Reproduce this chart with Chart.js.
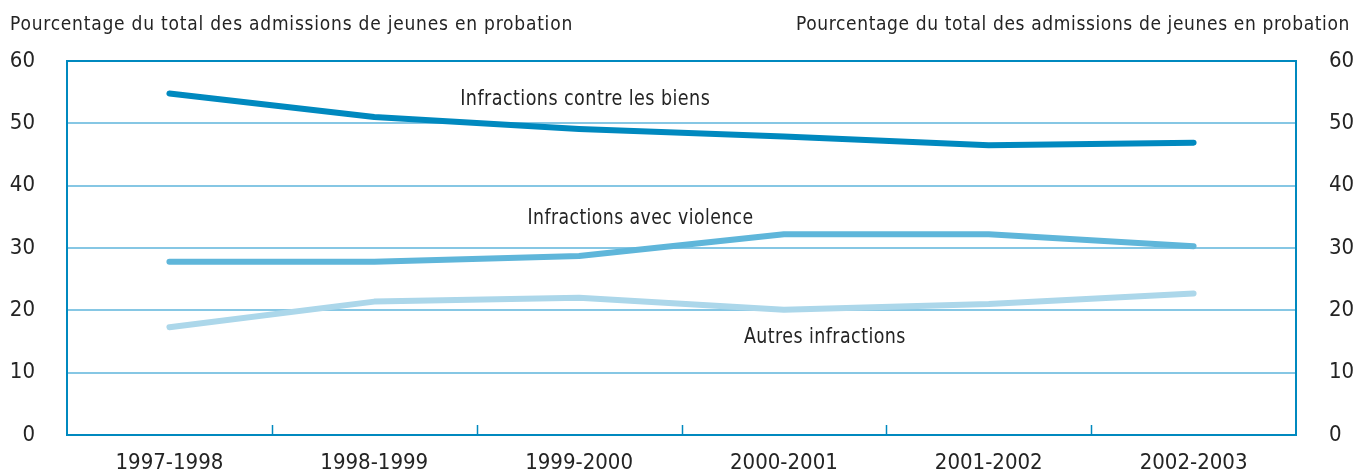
<!DOCTYPE html>
<html><head><meta charset="utf-8">
<script src="https://cdn.jsdelivr.net/npm/chart.js@4/dist/chart.umd.min.js"></script>
<style>html,body{margin:0;padding:0;background:#fff}#wrap{width:1369px;height:472px;position:relative}</style>
</head><body><div id="wrap"><canvas id="c" width="1369" height="472"></canvas></div>
<script>
const categories = ['1997-1998','1998-1999','1999-2000','2000-2001','2001-2002','2002-2003'];
const biens = [54.8, 51.0, 49.1, 47.9, 46.5, 46.9];
const violence = [27.8, 27.8, 28.7, 32.2, 32.2, 30.3];
const autres = [17.3, 21.4, 22.0, 20.1, 21.0, 22.7];
const yTicks = [0, 10, 20, 30, 40, 50, 60];
const axisTitle = 'Pourcentage du total des admissions de jeunes en probation';
const seriesLabels = ['Infractions contre les biens', 'Infractions avec violence', 'Autres infractions'];
const labelAnchors = [[2.03, 53.8], [2.3, 34.7], [3.2, 15.7]];
const labelWidths = [250, 226, 162];

const FONT = "'Liberation Sans Narrow','DejaVu Sans Condensed','Roboto',sans-serif";
const DARK = '#0089bf', MID = '#5fb6da', LIGHT = '#acd7ea', GRID = '#86c7e4', TXT = '#242424';

const decor = {
  id: 'decor',
  beforeDatasetsDraw(chart) {
    const {ctx, chartArea: a, scales} = chart;
    ctx.save();
    ctx.strokeStyle = DARK; ctx.lineWidth = 2;
    ctx.strokeRect(a.left, a.top, a.right - a.left, a.bottom - a.top);
    const x = scales.x;
    const half = (x.getPixelForValue(1) - x.getPixelForValue(0)) / 2;
    ctx.lineWidth = 1.5;
    for (let i = 0; i < categories.length - 1; i++) {
      const px = Math.round(x.getPixelForValue(i) + half) + 0.5;
      ctx.beginPath(); ctx.moveTo(px, a.bottom); ctx.lineTo(px, a.bottom - 10); ctx.stroke();
    }
    ctx.restore();
  },
  afterDraw(chart) {
    const {ctx, scales} = chart;
    ctx.save();
    ctx.fillStyle = TXT;
    const drawSpaced = (txt, x, y, w, align) => {
      ctx.letterSpacing = '0px';
      const m = ctx.measureText(txt).width;
      ctx.letterSpacing = ((w - m) / txt.length) + 'px';
      ctx.textAlign = 'left';
      ctx.fillText(txt, align === 'right' ? x - w : x, y);
      ctx.letterSpacing = '0px';
    };
    const drawScaled = (txt, cx, cy, w) => {
      ctx.letterSpacing = '0.5px';
      const m = ctx.measureText(txt).width;
      const sx = w / m;
      ctx.save();
      ctx.translate(cx, cy);
      ctx.scale(sx, 1);
      ctx.textAlign = 'center';
      ctx.fillText(txt, 0, 0);
      ctx.restore();
      ctx.letterSpacing = '0px';
    };
    ctx.textBaseline = 'alphabetic';
    ctx.font = '19px ' + FONT;
    drawSpaced(axisTitle, 10, 30, 563, 'left');
    drawSpaced(axisTitle, 1350, 30, 554, 'right');
    ctx.font = '22px ' + FONT;
    ctx.textBaseline = 'middle';
    seriesLabels.forEach((t, i) => {
      const px = scales.x.getPixelForValue(labelAnchors[i][0]);
      const py = scales.y.getPixelForValue(labelAnchors[i][1]);
      drawScaled(t, px, py, labelWidths[i]);
    });
    ctx.restore();
  }
};

const ds = (data, color) => ({
  data, borderColor: color, backgroundColor: color, borderWidth: 6,
  pointRadius: 0, tension: 0, borderCapStyle: 'round', borderJoinStyle: 'round', fill: false
});

const fixY = w => s => { s.width = w; s.paddingTop = 0; s.paddingBottom = 0; };

new Chart(document.getElementById('c'), {
  type: 'line',
  data: { labels: categories, datasets: [ds(autres, LIGHT), ds(violence, MID), ds(biens, DARK)] },
  options: {
    responsive: false, animation: false, devicePixelRatio: 1,
    layout: { padding: { top: 61, bottom: 0, left: 0, right: 0 } },
    plugins: { legend: { display: false }, tooltip: { enabled: false } },
    scales: {
      x: {
        offset: true, clip: false,
        grid: { display: false, drawTicks: false },
        border: { display: false },
        afterFit: s => { s.height = 37; },
        ticks: { color: TXT, font: { family: FONT, size: 22 }, padding: 15, maxRotation: 0 }
      },
      y: {
        min: 0, max: 60, clip: false,
        afterBuildTicks: s => { s.ticks = yTicks.map(v => ({ value: v })); },
        afterFit: fixY(67),
        grid: { color: GRID, lineWidth: 2, drawTicks: false },
        border: { display: false },
        ticks: { color: TXT, font: { family: FONT, size: 22 }, padding: 32 }
      },
      y2: {
        position: 'right', min: 0, max: 60, clip: false,
        afterBuildTicks: s => { s.ticks = yTicks.map(v => ({ value: v })); },
        afterFit: fixY(73),
        grid: { display: false, drawTicks: false },
        border: { display: false },
        ticks: { color: TXT, font: { family: FONT, size: 22 }, padding: 33 }
      }
    }
  },
  plugins: [decor]
});
</script></body></html>
